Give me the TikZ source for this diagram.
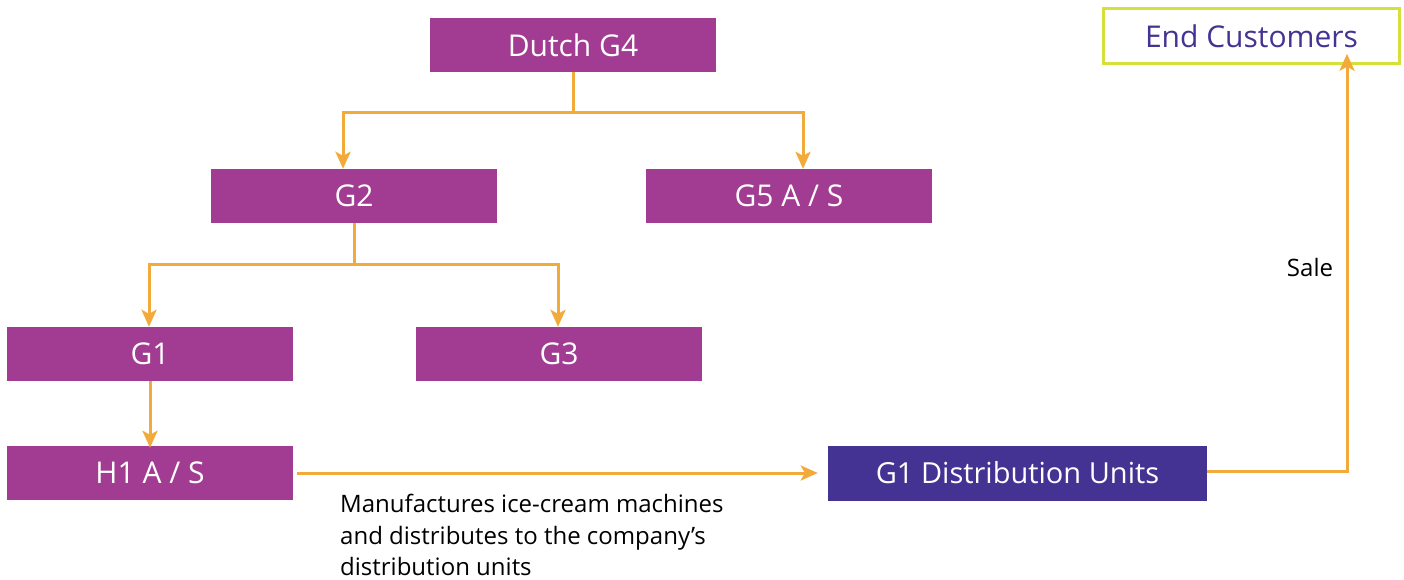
\documentclass[tikz,border=0pt]{standalone}
\usepackage{fontspec}
\setmainfont{Open Sans}
\usetikzlibrary{arrows.meta}
\definecolor{boxpurple}{HTML}{A23C92}
\definecolor{darkpurple}{HTML}{453393}
\definecolor{arrowor}{HTML}{F2AB3A}
\definecolor{limeedge}{HTML}{D6E03A}
\tikzset{
  pbox/.style={rectangle, fill=boxpurple, text=white, minimum width=286pt, minimum height=54pt, inner sep=0pt, font=\fontsize{30}{34}\selectfont},
  conn/.style={draw=arrowor, line width=3pt, -{Stealth[length=17pt,width=15pt,inset=4pt]}},
  plain/.style={draw=arrowor, line width=3pt},
}
\begin{document}
\begin{tikzpicture}[x=1pt,y=-1pt]
\useasboundingbox (0,0) rectangle (1404,579);
\node[pbox] (g4) at (573,45) {Dutch G4};
\node[pbox] (g2) at (354,196) {G2};
\node[pbox] (g5) at (789,196) {G5 A / S};
\node[pbox] (g1) at (150,354) {G1};
\node[pbox] (g3) at (559,354) {G3};
\node[pbox] (h1) at (150,473) {H1 A / S};
\node[rectangle, fill=darkpurple, text=white, minimum width=379pt, minimum height=55pt, inner sep=0pt, font=\fontsize{29}{34}\selectfont] (du) at (1017.5,473) {G1 Distribution Units};
\node[rectangle, draw=limeedge, line width=2.5pt, text=darkpurple, minimum width=296pt, minimum height=55pt, inner sep=0pt, font=\fontsize{30}{34}\selectfont] (ec) at (1251.5,36) {End Customers};

\coordinate (j1) at (573,112);
\coordinate (j2) at (354,264);
\draw[plain] (g4.south) -- (j1);
\draw[conn] (j1) -| ([xshift=-11pt]g2.north);
\draw[conn] (j1) -| ([xshift=14pt]g5.north);
\draw[plain] (g2.south) -- (j2);
\draw[conn] (j2) -| ([xshift=-1pt]g1.north);
\draw[conn] (j2) -| ([xshift=-1pt]g3.north);
\draw[conn] (g1.south) -- ([yshift=-2pt]h1.north);
\draw[conn] ([xshift=4pt]h1.east) -- ([xshift=-10pt]du.west);
\draw[conn] ([yshift=2pt]du.east) -| ([xshift=95.5pt,yshift=11pt]ec.south);

\node[anchor=north west, align=left, font=\fontsize{24}{31.5}\selectfont, inner sep=0pt] (desc) at (340,494) {Manufactures ice-cream machines\\and distributes to the company’s\\distribution units};
\node[font=\fontsize{24}{28}\selectfont, inner sep=0pt] (sale) at (1310,267) {Sale};
\end{tikzpicture}
\end{document}
